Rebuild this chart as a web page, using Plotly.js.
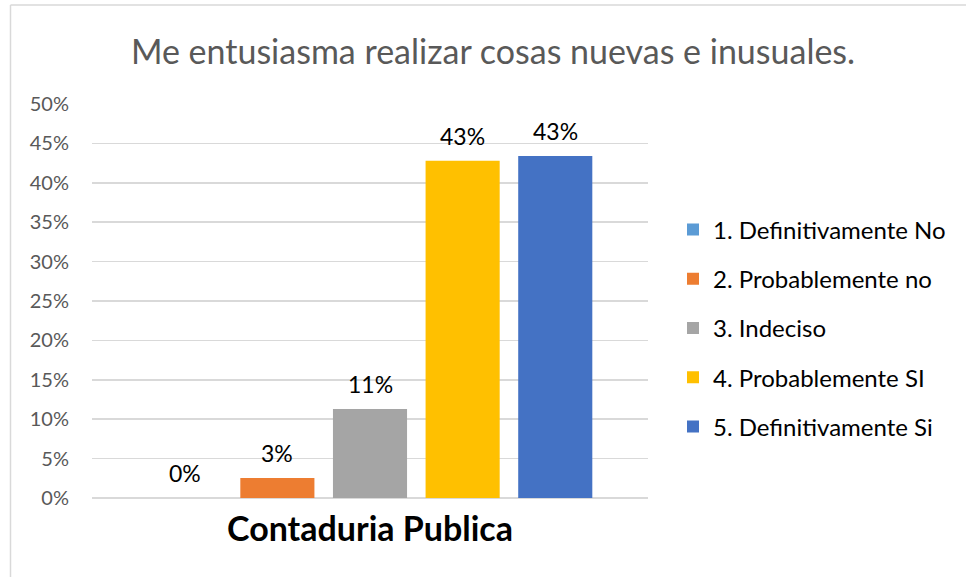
<!DOCTYPE html>
<html>
<head>
<meta charset="utf-8">
<script src="https://cdn.plot.ly/plotly-3.0.1.min.js"></script>
<style>
html,body{margin:0;padding:0;background:#fff;}
#chart{width:966px;height:577px;}
</style>
</head>
<body>
<div id="chart"></div>
<script>
var categories = ["Contaduria Publica"];
var seriesNames = ["1. Definitivamente No", "2. Probablemente no", "3. Indeciso", "4. Probablemente SI", "5. Definitivamente Si"];
var seriesValues = [0, 0.0254, 0.113, 0.428, 0.434];
var seriesColors = ["#5B9BD5", "#ED7D31", "#A5A5A5", "#FFC000", "#4472C4"];
var yTickVals = [0, 0.05, 0.10, 0.15, 0.20, 0.25, 0.30, 0.35, 0.40, 0.45, 0.50];
var yTickText = ["0%", "5%", "10%", "15%", "20%", "25%", "30%", "35%", "40%", "45%", "50%"];

var FONT = "Lato, 'Open Sans', sans-serif";
var mL = 92, mR = 318, mT = 104, mB = 79, W = 966, H = 577;
var pw = W - mL - mR, ph = H - mT - mB;

var traces = seriesNames.map(function(n, i){
  return {
    type: "bar",
    name: n,
    x: categories,
    y: [seriesValues[i]],
    marker: {color: seriesColors[i]},
    legendgroup: "g" + i,
    hoverinfo: "none"
  };
});

var nS = seriesNames.length;
var bargap = 0.167;
var annotations = seriesValues.map(function(v, i){
  var groupW = 1 - bargap;
  var slot = groupW / nS;
  var off = -groupW / 2 + slot * (i + 0.5);
  return {
    x: off, xref: "x", y: v, yref: "y",
    text: Math.round(v * 100) + "%",
    showarrow: false, yanchor: "bottom", yshift: 9,
    font: {family: FONT, size: 23, color: "#000000"}
  };
});

function px(x){ return (x - mL) / pw; }
function py(y){ return (H - mB - y) / ph; }

var layout = {
  width: W, height: H,
  margin: {l: mL, r: mR, t: mT, b: mB, pad: 0},
  paper_bgcolor: "#ffffff",
  plot_bgcolor: "#ffffff",
  title: {
    text: "Me entusiasma realizar cosas nuevas e inusuales.",
    font: {family: FONT, size: 34, color: "#595959"},
    x: 493 / W, xanchor: "center", y: 1 - 52 / H, yanchor: "middle"
  },
  barmode: "group",
  bargap: bargap,
  bargroupgap: 0.2,
  xaxis: {
    type: "category",
    tickfont: {family: FONT, size: 34, color: "#000000", weight: "bold"},
    showgrid: false, zeroline: false, showline: false,
    ticks: "", ticklabelstandoff: 8, fixedrange: true
  },
  yaxis: {
    range: [0, 0.5],
    tickvals: yTickVals, ticktext: yTickText,
    tickfont: {family: FONT, size: 20, color: "#595959"},
    showgrid: true, gridcolor: "#d9d9d9", gridwidth: 1.5,
    zeroline: true, zerolinecolor: "#d9d9d9", zerolinewidth: 1.5,
    showline: false, ticks: "", ticklabelstandoff: 22, fixedrange: true
  },
  legend: {
    x: px(673), xanchor: "left",
    y: py(328), yanchor: "middle",
    font: {family: FONT, size: 24, color: "#000000"},
    tracegroupgap: 15,
    bgcolor: "rgba(0,0,0,0)"
  },
  annotations: annotations,
  shapes: [
    {type: "line", xref: "paper", yref: "paper", x0: px(10.5), x1: px(10.5), y0: py(5), y1: py(H + 5), line: {color: "#d9d9d9", width: 1.5}},
    {type: "line", xref: "paper", yref: "paper", x0: px(10.5), x1: px(W + 5), y0: py(5), y1: py(5), line: {color: "#d9d9d9", width: 1.5}}
  ]
};

Plotly.newPlot("chart", traces, layout, {staticPlot: true, displayModeBar: false});
</script>
</body>
</html>
